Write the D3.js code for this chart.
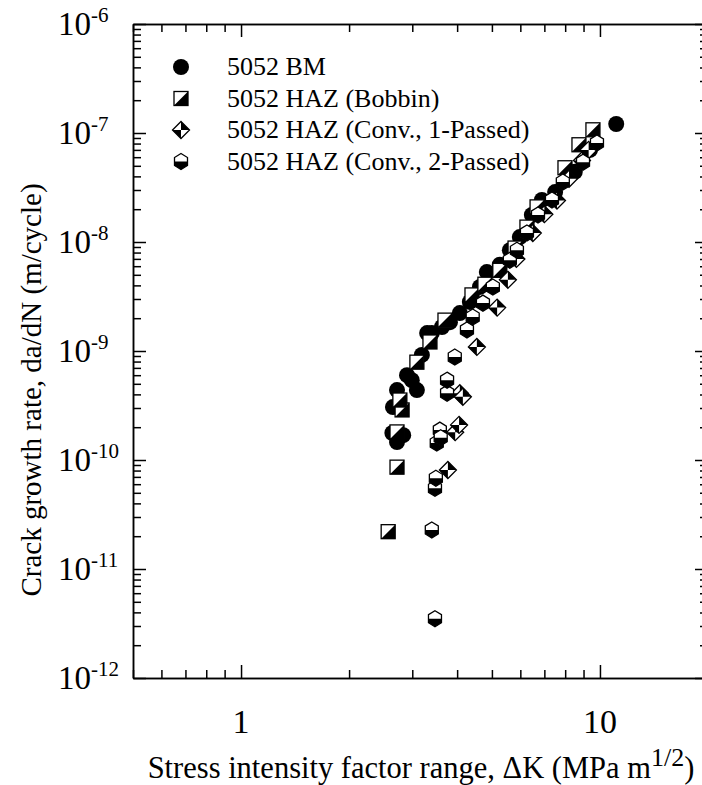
<!DOCTYPE html>
<html lang="en">
<head>
    <meta charset="utf-8">
    <title>Crack growth rate vs stress intensity factor range</title>
    <script type="text/javascript" src="https://cdn.jsdelivr.net/npm/d3@7"></script>
    <style type="text/css">
        body { margin: 0; background: #fff; }
        svg text { font-family: "Liberation Serif", "Times New Roman", serif; fill: #000; }
        .axis path, .axis line { stroke: #000; stroke-width: 1.5; }
    </style>
</head>
<body>
<script type="text/javascript">
    // data
    var bmK = [2.64, 2.83, 2.72, 2.65, 2.72, 3.09, 2.90, 2.99, 3.19, 3.30, 3.40, 3.63, 3.82, 4.07, 4.34, 4.63, 4.84, 5.26, 5.61, 5.98, 6.46, 6.89, 7.50, 8.51, 9.38, 11.1];
    var bmDa = [1.77e-10, 1.69e-10, 1.46e-10, 3.06e-10, 4.38e-10, 4.38e-10, 6.0e-10, 5.4e-10, 9.2e-10, 1.46e-9, 1.46e-9, 1.66e-9, 1.84e-9, 2.23e-9, 2.82e-9, 3.87e-9, 5.3e-9, 6.2e-9, 8.4e-9, 1.11e-8, 1.77e-8, 2.43e-8, 2.87e-8, 4.4e-8, 7.0e-8, 1.21e-7];

    var bobK = [2.57, 2.72, 2.72, 2.81, 2.77, 3.09, 3.36, 3.70, 4.40, 4.78, 5.26, 5.80, 6.26, 6.68, 7.99, 8.74, 9.56];
    var bobDa = [2.2e-11, 8.6e-11, 1.81e-10, 2.88e-10, 3.55e-10, 7.9e-10, 1.21e-9, 1.92e-9, 3.27e-9, 4.1e-9, 5.5e-9, 8.8e-9, 1.37e-8, 2.1e-8, 4.8e-8, 7.8e-8, 1.07e-7];

    var c1K = [3.77, 3.95, 4.05, 4.07, 4.15, 4.54, 5.17, 5.54, 5.85, 6.50, 7.00, 7.59, 8.20, 8.91, 9.30];
    var c1Da = [8.1e-11, 1.8e-10, 2.1e-10, 4.1e-10, 3.8e-10, 1.09e-9, 2.5e-9, 4.5e-9, 7.0e-9, 1.21e-8, 1.8e-8, 2.4e-8, 3.8e-8, 5.6e-8, 7.0e-8];

    var c2K = [3.47, 3.40, 3.47, 3.49, 3.51, 3.58, 3.60, 3.75, 3.75, 3.94, 4.26, 4.42, 4.72, 5.03, 5.61, 5.87, 6.26, 6.72, 7.35, 7.88, 8.97, 9.81];
    var c2Da = [3.5e-12, 2.28e-11, 5.5e-11, 6.8e-11, 1.43e-10, 1.88e-10, 1.6e-10, 4.1e-10, 5.4e-10, 8.8e-10, 1.56e-9, 2.05e-9, 2.75e-9, 3.86e-9, 6.8e-9, 8.4e-9, 1.21e-8, 1.77e-8, 2.43e-8, 3.55e-8, 5.4e-8, 8.1e-8];

    var seriesNames = ["5052 BM", "5052 HAZ (Bobbin)", "5052 HAZ (Conv., 1-Passed)", "5052 HAZ (Conv., 2-Passed)"];
    var seriesShapes = ["circle", "square", "diamond", "hexagon"];

    var xMajor = [1, 10];
    var xMinor = [0.5, 0.6, 0.7, 0.8, 0.9, 2, 3, 4, 5, 6, 7, 8, 9, 20];
    var yExp = [-12, -11, -10, -9, -8, -7, -6];

    drawChart();

    function drawChart() {
        var w = 702, h = 785;
        var mLeft = 133, mRight = 708, mTop = 24, mBottom = 678;

        var svg = d3.select("body").append("svg")
            .attr("width", w)
            .attr("height", h);

        var xScale = d3.scaleLog().domain([0.5, 20]).range([mLeft, mRight]);
        var yScale = d3.scaleLog().domain([1e-12, 1e-6]).range([mBottom, mTop]);

        var yMajor = yExp.map(function (e) { return Math.pow(10, e); });
        var yMinor = [];
        yExp.slice(0, -1).forEach(function (e) {
            for (var m = 2; m <= 9; m++) yMinor.push(m * Math.pow(10, e));
        });

        // axes, ticks pointing inward
        function drawAxis(gen, tr, vals, size) {
            svg.append("g")
                .attr("class", "axis")
                .attr("transform", tr)
                .call(gen.tickValues(vals).tickSize(-size).tickSizeOuter(0).tickFormat(""));
        }
        drawAxis(d3.axisBottom(xScale), "translate(0," + mBottom + ")", xMajor, 13);
        drawAxis(d3.axisBottom(xScale), "translate(0," + mBottom + ")", xMinor, 8);
        drawAxis(d3.axisTop(xScale), "translate(0," + mTop + ")", xMajor, 13);
        drawAxis(d3.axisTop(xScale), "translate(0," + mTop + ")", xMinor, 8);
        drawAxis(d3.axisLeft(yScale), "translate(" + mLeft + ",0)", yMajor, 13);
        drawAxis(d3.axisLeft(yScale), "translate(" + mLeft + ",0)", yMinor, 8);
        drawAxis(d3.axisRight(yScale), "translate(" + mRight + ",0)", yMajor, 13);
        drawAxis(d3.axisRight(yScale), "translate(" + mRight + ",0)", yMinor, 8);

        // tick labels
        svg.selectAll(".xlab").data(xMajor).enter().append("text")
            .attr("class", "xlab")
            .attr("x", function (d) { return xScale(d); })
            .attr("y", mBottom + 55)
            .attr("text-anchor", "middle")
            .style("font-size", "34px")
            .text(function (d) { return d; });

        var yl = svg.selectAll(".ylab").data(yExp).enter().append("text")
            .attr("class", "ylab")
            .attr("x", 58)
            .attr("y", function (d) { return yScale(Math.pow(10, d)) + 11; })
            .style("font-size", "33px");
        yl.append("tspan").text("10");
        yl.append("tspan").attr("dy", -13).style("font-size", "21px").text(function (d) { return "-" + Math.abs(d); });

        // axis titles
        svg.append("text")
            .attr("transform", "translate(41,390) rotate(-90)")
            .attr("text-anchor", "middle")
            .style("font-size", "29px")
            .text("Crack growth rate, da/dN (m/cycle)");

        var xt = svg.append("text")
            .attr("x", 421)
            .attr("y", 778)
            .attr("text-anchor", "middle")
            .style("font-size", "30.5px");
        xt.append("tspan").text("Stress intensity factor range, \u0394K (MPa m");
        xt.append("tspan").attr("dy", -12).style("font-size", "26px").text("1/2");
        xt.append("tspan").attr("dy", 12).text(")");

        // markers
        function marker(g, shape) {
            if (shape === "circle") {
                g.append("circle").attr("r", 8).attr("fill", "#000");
            } else if (shape === "square") {
                g.append("rect").attr("x", -7).attr("y", -7).attr("width", 14).attr("height", 14)
                    .attr("fill", "#fff").attr("stroke", "#000").attr("stroke-width", 1.3);
                g.append("path").attr("d", "M7,-7L7,7L-7,7Z").attr("fill", "#000");
            } else if (shape === "diamond") {
                g.append("path").attr("d", "M0,-8.5L8.5,0L0,8.5L-8.5,0Z")
                    .attr("fill", "#fff").attr("stroke", "#000").attr("stroke-width", 1.3);
                g.append("path").attr("d", "M0,-8.5L8.5,0L0,0Z M0,0L0,8.5L-8.5,0Z").attr("fill", "#000");
            } else {
                g.append("path").attr("d", "M0,-8L6.5,-4L6.5,4L0,8L-6.5,4L-6.5,-4Z")
                    .attr("fill", "#fff").attr("stroke", "#000").attr("stroke-width", 1.3);
                g.append("path").attr("d", "M-6.5,0L6.5,0L6.5,4L0,8L-6.5,4Z").attr("fill", "#000");
            }
        }

        var allSeries = [[bmK, bmDa], [bobK, bobDa], [c1K, c1Da], [c2K, c2Da]];
        allSeries.forEach(function (s, i) {
            var pts = s[0].map(function (k, j) { return { k: k, da: s[1][j] }; });
            svg.append("g").selectAll("g").data(pts).enter().append("g")
                .attr("transform", function (d) { return "translate(" + xScale(d.k) + "," + yScale(d.da) + ")"; })
                .each(function () { marker(d3.select(this), seriesShapes[i]); });
        });

        // legend
        var leg = svg.append("g").selectAll("g").data(seriesNames).enter().append("g")
            .attr("transform", function (d, i) { return "translate(181," + (67 + i * 31.5) + ")"; });
        leg.each(function (d, i) { marker(d3.select(this), seriesShapes[i]); });
        leg.append("text")
            .attr("x", 46)
            .attr("y", 8)
            .style("font-size", "26px")
            .text(function (d) { return d; });
    }
</script>
</body>
</html>
